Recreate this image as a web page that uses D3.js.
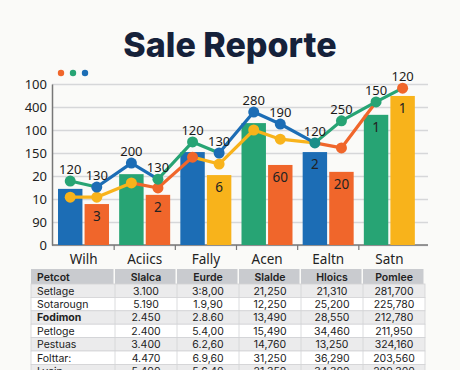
<!DOCTYPE html>
<html>
<head>
<meta charset="utf-8">
<script src="https://cdn.jsdelivr.net/npm/d3@7"></script>
<style>
  body { margin: 0; background: #fafaf8; }
  svg { display: block; }
  .tick text { font-family: "Noto Sans", sans-serif; fill: #222; }
</style>
</head>
<body>
<div id="chart"></div>
<script>
// ---- data ----
const categories = ["Wilh", "Aciics", "Fally", "Acen", "Ealtn", "Satn"];
const yTickValues = [0, 50, 100, 150, 200, 250, 300, 350];
const yTickLabels = ["0", "90", "10", "20", "150", "100", "400", "100"];

const barsA = [122, 154, 202, 265, 202, 283];
const barsB = [89, 109, 152, 174, 159, 324];
const barsAColors = ["blue", "green", "blue", "green", "blue", "green"];
const barsBColors = ["orange", "orange", "yellow", "orange", "orange", "yellow"];
const barsALabels = ["", "", "", "", "2", "1"];
const barsBLabels = ["3", "2", "6", "60", "20", "1"];

const topLine = [139, 126, 178, 143, 224, 200, 289, 263, 222, 270, 311, 341];
const topDots = ["green", "blue", "blue", "green", "green", "blue", "blue", "blue", "teal", "green", "green", "orange"];
const topSegs = ["green", "blue", "blue", "green", "green", "blue", "blue", "blue", "green", "green", "green"];
const topLabels = ["120", "130", "200", "130", "120", "130", "280", "190", "120", "250", "150", "120"];

const midLine = [104, 104, 135, 124, 191, 176, 250, 230, 222, 211, 311, null];
const midDots = ["yellow", "yellow", "yellow", "orange", "orange", "yellow", "yellow", "yellow", null, "orange", null, null];
const midSegs = ["yellow", "yellow", "orange", "orange", "yellow", "yellow", "yellow", "yellow", "orange", "orange", "orange"];

const legendDots = ["orange", "green", "blue"];

const tableHeader = ["Petcot", "Slalca", "Eurde", "Slalde", "Hloics", "Pomlee"];
const tableRows = [
    ["Setlage", "3.100", "3:8,00", "21,250", "21,310", "281,700"],
    ["Sotarougn", "5.190", "1.9,90", "12,250", "25,200", "225,780"],
    ["Fodimon", "2.450", "2.8.60", "13,490", "28,550", "212,780"],
    ["Petloge", "2.400", "5.4,00", "15,490", "34,460", "211,950"],
    ["Pestuas", "3.400", "6.2,60", "14,760", "13,250", "324,160"],
    ["Folttar:", "4.470", "6.9,60", "31,250", "36,290", "203,560"],
    ["Lvein", "5.400", "5.6,40", "21,350", "34,300", "209,300"],
];

const palette = {
    blue: "#1c6db5",
    orange: "#f0662b",
    green: "#27a474",
    yellow: "#f8b31b",
    teal: "#1a8f8a",
};

// ---- layout ----
const width = 460, height = 370;
const svg = d3.select("#chart").append("svg").attr("width", width).attr("height", height);

svg.append("text")
    .attr("x", 230).attr("y", 57)
    .attr("text-anchor", "middle")
    .attr("font-family", "Inter, sans-serif")
    .attr("font-weight", 800)
    .attr("font-size", 34)
    .attr("fill", "#15213a")
    .text("Sale Reporte");

const x0 = d3.scaleBand().domain(categories).range([53, 420]);
const x1 = d3.scaleBand().domain([0, 1]).range([5, 56]).paddingInner(0.08);
const y = d3.scaleLinear().domain([0, 350]).range([245, 84]);

// gridlines
svg.append("g")
    .call(d3.axisLeft(y).tickValues(yTickValues).tickSize(-376).tickFormat(""))
    .attr("transform", "translate(52,0)")
    .call(g => g.select(".domain").remove())
    .call(g => g.selectAll("line").attr("stroke", "#d6d7d9").attr("stroke-width", 1.5));

// y axis
svg.append("g")
    .attr("transform", "translate(52,0)")
    .call(d3.axisLeft(y).tickValues(yTickValues).tickSize(0).tickPadding(5)
        .tickFormat((d, i) => yTickLabels[i]))
    .call(g => g.select(".domain").attr("stroke", "#777").attr("stroke-width", 1.5))
    .call(g => g.selectAll("text").attr("font-size", 13));

// x axis
svg.append("g")
    .attr("transform", "translate(0,245)")
    .call(d3.axisBottom(x0).tickSize(0).tickPadding(9))
    .call(g => g.select(".domain").attr("d", "M52,0H428").attr("stroke", "#777").attr("stroke-width", 1.5))
    .call(g => g.selectAll("text").attr("font-size", 13.5));

svg.append("g").selectAll("line")
    .data(categories.slice(1))
    .join("line")
    .attr("x1", d => x0(d)).attr("x2", d => x0(d))
    .attr("y1", 245).attr("y2", 250)
    .attr("stroke", "#777").attr("stroke-width", 1.2);

// legend dots
svg.append("g").selectAll("circle")
    .data(legendDots)
    .join("circle")
    .attr("cx", (d, i) => 61 + i * 12)
    .attr("cy", 73)
    .attr("r", 3.2)
    .attr("fill", d => palette[d]);

// bars
const barData = categories.flatMap((c, i) => [
    { c, sub: 0, v: barsA[i], color: barsAColors[i], label: barsALabels[i] },
    { c, sub: 1, v: barsB[i], color: barsBColors[i], label: barsBLabels[i] },
]);

svg.append("g").selectAll("rect")
    .data(barData)
    .join("rect")
    .attr("x", d => x0(d.c) + x1(d.sub))
    .attr("y", d => y(d.v))
    .attr("width", x1.bandwidth())
    .attr("height", d => y(0) - y(d.v))
    .attr("fill", d => palette[d.color]);

svg.append("g").selectAll("text")
    .data(barData.filter(d => d.label))
    .join("text")
    .attr("x", d => x0(d.c) + x1(d.sub) + x1.bandwidth() / 2)
    .attr("y", d => y(d.v) + 17)
    .attr("text-anchor", "middle")
    .attr("font-family", "Noto Sans, sans-serif")
    .attr("font-size", 13.5)
    .attr("fill", "#222")
    .text(d => d.label);

// lines
const px = i => x0(categories[Math.floor(i / 2)]) + x1(i % 2) + x1.bandwidth() / 2;

function drawSeries(values, segColors, dotColors) {
    const g = svg.append("g");
    const segs = [];
    for (let i = 0; i < values.length - 1; i++) {
        if (values[i] != null && values[i + 1] != null) segs.push({ i, color: segColors[i] });
    }
    const line = d3.line().x(d => px(d)).y(d => y(values[d]));
    g.selectAll("path")
        .data(segs)
        .join("path")
        .attr("d", d => line([d.i, d.i + 1]))
        .attr("fill", "none")
        .attr("stroke", d => palette[d.color])
        .attr("stroke-width", 3.2)
        .attr("stroke-linecap", "round");
    g.selectAll("circle")
        .data(values.map((v, i) => ({ v, i, color: dotColors[i] })).filter(d => d.v != null && d.color))
        .join("circle")
        .attr("cx", d => px(d.i))
        .attr("cy", d => y(d.v))
        .attr("r", 5.5)
        .attr("fill", d => palette[d.color]);
}

drawSeries(midLine, midSegs, midDots);
drawSeries(topLine, topSegs, topDots);

svg.append("g").selectAll("text")
    .data(topLine)
    .join("text")
    .attr("x", (d, i) => px(i))
    .attr("y", d => y(d) - 7)
    .attr("text-anchor", "middle")
    .attr("font-family", "Noto Sans, sans-serif")
    .attr("font-size", 13)
    .attr("fill", "#1a1a1a")
    .text((d, i) => topLabels[i]);

// table
const colX = [31, 115, 177, 239, 301, 363, 425];
const headerTop = 269, headerH = 15, rowH = 13.4;
const table = svg.append("g").attr("font-family", "Inter, sans-serif").attr("font-size", 10.5);

table.selectAll(".hcell")
    .data(tableHeader)
    .join("rect")
    .attr("class", "hcell")
    .attr("x", (d, i) => colX[i])
    .attr("y", headerTop)
    .attr("width", (d, i) => colX[i + 1] - colX[i] - 1.5)
    .attr("height", headerH)
    .attr("fill", "#c9cbcf");

table.selectAll(".htext")
    .data(tableHeader)
    .join("text")
    .attr("class", "htext")
    .attr("x", (d, i) => i === 0 ? colX[0] + 6 : (colX[i] + colX[i + 1]) / 2)
    .attr("y", headerTop + 11.5)
    .attr("text-anchor", (d, i) => i === 0 ? "start" : "middle")
    .attr("font-weight", 600)
    .attr("fill", "#222")
    .text(d => d);

const rows = table.selectAll(".row")
    .data(tableRows)
    .join("g")
    .attr("class", "row")
    .attr("transform", (d, r) => `translate(0,${headerTop + headerH + r * rowH})`);

rows.append("rect")
    .attr("x", colX[0]).attr("width", colX[6] - colX[0])
    .attr("height", rowH)
    .attr("fill", (d, r) => r % 2 === 0 ? "#ebebec" : "#ffffff")
    .attr("stroke", "#d2d3d5").attr("stroke-width", 0.8);

rows.selectAll("line")
    .data(colX.slice(1, 6))
    .join("line")
    .attr("x1", d => d).attr("x2", d => d)
    .attr("y1", 0).attr("y2", rowH)
    .attr("stroke", "#d2d3d5").attr("stroke-width", 0.8);

rows.selectAll("text")
    .data((d, r) => d.map(v => ({ v, r })))
    .join("text")
    .attr("x", (d, i) => i === 0 ? colX[0] + 6 : (colX[i] + colX[i + 1]) / 2)
    .attr("y", 10.5)
    .attr("text-anchor", (d, i) => i === 0 ? "start" : "middle")
    .attr("font-weight", (d, i) => i === 0 && d.r === 2 ? 700 : 400)
    .attr("fill", "#222")
    .text(d => d.v);
</script>
</body>
</html>
